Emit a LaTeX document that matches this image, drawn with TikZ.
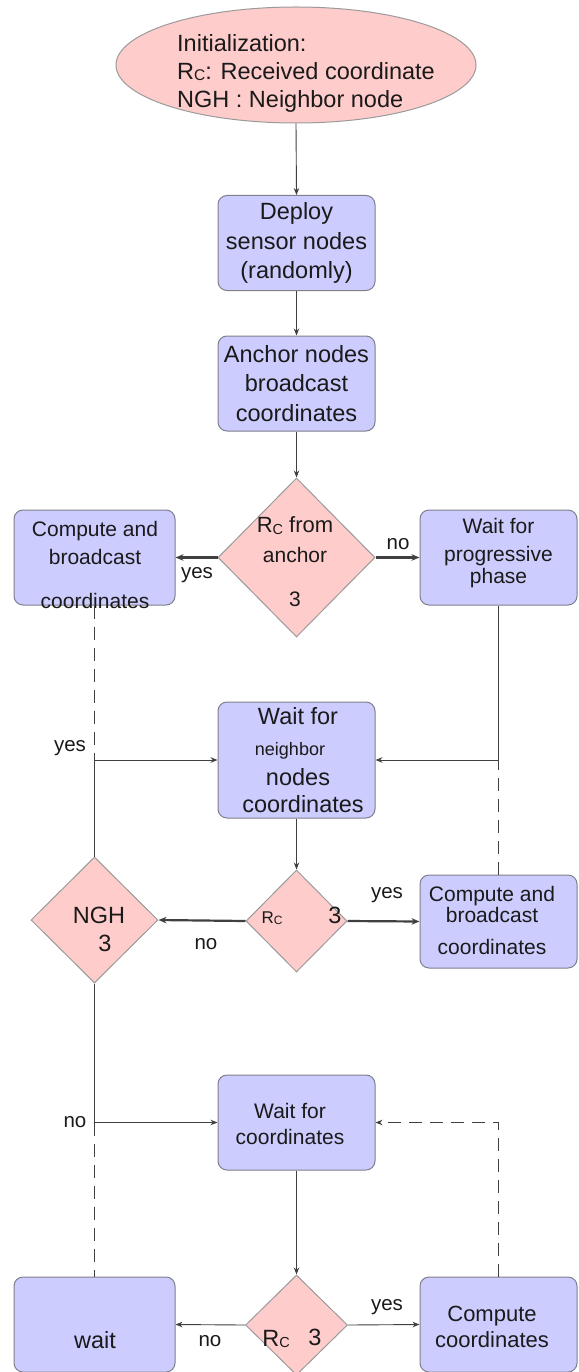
\documentclass[tikz,border=0pt]{standalone}
\usepackage{fontspec}
\setmainfont{Liberation Sans}
\usetikzlibrary{shapes.geometric,arrows.meta}
\definecolor{boxfill}{HTML}{CCCCFF}
\definecolor{boxline}{HTML}{80808C}
\definecolor{pinkfill}{HTML}{FFCCCC}
\definecolor{pinkline}{HTML}{9A9A9A}
\definecolor{linecol}{HTML}{404040}
\definecolor{txtcol}{HTML}{1A1A1A}
\newcommand{\fbig}{\fontsize{23.5}{28}\selectfont}
\newcommand{\fmain}{\fontsize{23.5}{29.5}\selectfont}
\newcommand{\fmid}{\fontsize{21}{28}\selectfont}
\newcommand{\fsm}{\fontsize{18}{20}\selectfont}
\newcommand{\flab}{\fontsize{20.5}{24}\selectfont}
\newcommand{\RcBig}{R\raisebox{-1.5pt}{\fontsize{15.5}{15.5}\selectfont C}}
\newcommand{\RcMid}{R\raisebox{-1.5pt}{\fontsize{14.5}{14.5}\selectfont C}}
\newcommand{\RcSmall}{{\fontsize{17}{17}\selectfont R}\raisebox{-1pt}{\fontsize{12}{12}\selectfont C}}
\begin{document}
\begin{tikzpicture}[x=1pt,y=-1pt,
  every node/.style={text=txtcol},
  box/.style={draw=boxline, line width=1pt, fill=boxfill, rounded corners=9pt,
    minimum width=157pt, minimum height=95pt, inner sep=0pt, align=center, font=\fmain},
  wbox/.style={box, minimum width=161pt},
  dia/.style={draw=pinkline, line width=1pt, fill=pinkfill, diamond, inner sep=0pt},
  ell/.style={draw=pinkline, line width=1pt, fill=pinkfill, ellipse, inner sep=0pt,
    minimum width=360pt, minimum height=116pt},
  txt/.style={inner sep=0pt, align=center, font=\fmid},
  lab/.style={inner sep=0pt, font=\flab},
  conn/.style={draw=linecol, line width=0.9pt},
  arr/.style={conn, -{Stealth[length=7pt,width=5.5pt]}},
  thk/.style={arr, line width=2.2pt, -{Stealth[length=8pt,width=6.5pt]}},
  dashln/.style={conn, dash pattern=on 13pt off 8pt},
]
\useasboundingbox (0,0) rectangle (578,1372);
\fill[white] (0,0) rectangle (578,1372);

% ---- nodes ----
\node[ell] (init) at (296,65) {};
\node[txt, anchor=west, align=left, font=\fbig] (initt) at (177,73)
  {Initialization:\\\RcBig: Received coordinate\\NGH : Neighbor node};

\node[box] (deploy) at (296.5,243) {Deploy\\sensor nodes\\(randomly)};
\node[box] (anchor) at (296.5,383.5) {Anchor nodes\\broadcast\\coordinates};

\node[dia, minimum width=157pt, minimum height=159pt] (d1) at (296.5,557.5) {};
\node[txt] (d1t) at (295,562) {{\fontsize{22}{22}\selectfont\RcMid{} from}\\[2pt]anchor\\[16pt]3};

\node[wbox] (cb1) at (94.5,557.5) {};
\node[txt] (cb1t) at (95,565) {Compute and\\broadcast\\[16pt]coordinates};

\node[box] (wp) at (498.5,557.5) {};
\node[txt] (wpt) at (498.5,553.5) {Wait for\\progressive\\[-6pt]phase};

\node[box, minimum height=116pt] (wn) at (296.5,760) {};
\node[txt, font=\fmain] (wnt) at (298,760) {Wait for\\[2pt]\hspace*{-16pt}{\fsm neighbor}\\nodes\\[-2pt]\hspace*{10pt}coordinates};

\node[dia, minimum width=101pt, minimum height=102pt] (d2) at (296.5,921) {};
\node[txt] (d2a) at (272,918) {\RcSmall};
\node[txt, font=\fmain] (d2b) at (335,915) {3};

\node[dia, minimum width=127pt, minimum height=126pt] (ngh) at (94.5,920) {};
\node[txt, font=\fmain] (ngha) at (99,915) {NGH};
\node[txt, font=\fmain] (nghb) at (105,943) {3};

\node[box, minimum height=93pt] (cb2) at (498.5,921.5) {};
\node[txt] (cb2t) at (492,920) {Compute and\\[-7pt]broadcast\\[4pt]coordinates};

\node[box] (wc) at (296.5,1122.5) {};
\node[txt] (wct) at (290,1124) {Wait for\\[-2pt]coordinates};

\node[dia, minimum width=102pt, minimum height=100pt] (d3) at (296.5,1325) {};
\node[txt, font=\fmain] (d3a) at (276,1339) {\RcMid};
\node[txt, font=\fmain] (d3b) at (315,1337) {3};

\node[wbox] (wait) at (94.5,1324.5) {};
\node[txt, font=\fmain] (waitt) at (95,1340) {wait};

\node[box] (cc) at (498.5,1324.5) {};
\node[txt, font=\fontsize{22}{28}\selectfont] (cct) at (492,1326.5) {Compute\\[-2pt]coordinates};

% ---- junctions ----
\coordinate (j1) at (cb1.south |- wn.west);
\coordinate (j2) at (wp.south |- wn.east);
\coordinate (j3) at (ngh.south |- wc.west);
\coordinate (j4) at (cc.north |- wc.east);

% ---- connectors ----
\draw[arr] (init.south) -- (deploy.north);
\draw[arr] (deploy.south) -- (anchor.north);
\draw[arr] (anchor.south) -- (d1.north);
\draw[thk] (d1.west) -- (cb1.east);
\draw[thk] (d1.east) -- (wp.west);

\draw[dashln] (cb1.south) -- (j1);
\draw[arr] (ngh.north) -- (j1) -- (wn.west);
\draw[arr] (wp.south) -- (j2) -- (wn.east);
\draw[dashln] (cb2.north) -- (j2);

\draw[arr] (wn.south) -- (d2.north);
\draw[thk] (d2.east) -- (cb2.west);
\draw[thk] (d2.west) -- (ngh.east);

\draw[arr] (ngh.south) -- (j3) -- (wc.west);
\draw[dashln] (j3) -- (wait.north);

\draw[arr] (wc.south) -- (d3.north);
\draw[arr] (d3.west) -- (wait.east);
\draw[arr] (d3.east) -- (cc.west);
\draw[dashln, -{Stealth[length=7pt,width=5.5pt]}] (cc.north) -- (j4) -- (wc.east);

% ---- labels ----
\node[lab] (l1) at (197,575) {yes};
\node[lab] (l2) at (398,544) {no};
\node[lab] (l3) at (70,748) {yes};
\node[lab] (l4) at (387,895) {yes};
\node[lab] (l5) at (206,944) {no};
\node[lab] (l6) at (75,1122) {no};
\node[lab] (l7) at (210,1341) {no};
\node[lab] (l8) at (387,1307) {yes};
\end{tikzpicture}
\end{document}
